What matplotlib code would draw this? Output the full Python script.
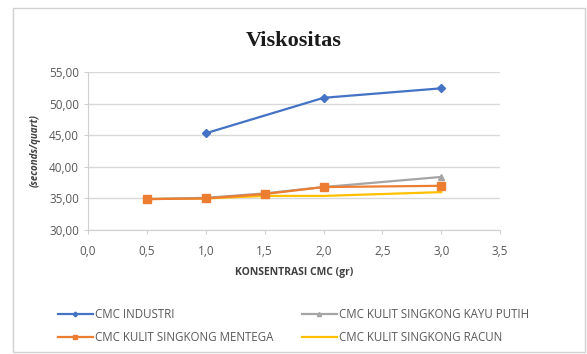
import matplotlib.pyplot as plt
from matplotlib.patches import Rectangle
from matplotlib.ticker import FuncFormatter, MultipleLocator

# konsentrasi CMC (gr) dan viskositas (seconds/quart)
x_industri = [1.0, 2.0, 3.0]
y_industri = [45.3, 50.9, 52.4]

x_singkong = [0.5, 1.0, 1.5, 2.0, 3.0]
y_kayu_putih = [34.9, 35.1, 35.8, 36.8, 38.4]
y_mentega = [34.9, 35.0, 35.7, 36.8, 37.0]
y_racun = [34.9, 35.0, 35.4, 35.4, 36.0]

labels = ['CMC INDUSTRI', 'CMC KULIT SINGKONG KAYU PUTIH',
          'CMC KULIT SINGKONG MENTEGA', 'CMC KULIT SINGKONG RACUN']

plt.rcParams['font.family'] = ['Open Sans', 'DejaVu Sans']

fig = plt.figure(figsize=(5.87, 3.54), dpi=100)
ax = fig.add_axes([0.150, 0.350, 0.702, 0.447])

# bingkai chart
fig.patches.append(Rectangle((0.022, 0.005), 0.975, 0.972, transform=fig.transFigure,
                             fill=False, edgecolor='#d0d0d0', linewidth=1.0))

l_ind, = ax.plot(x_industri, y_industri, color='#4472C4', marker='D', markersize=4,
                 linewidth=1.6, label=labels[0], zorder=4)
l_kp, = ax.plot(x_singkong, y_kayu_putih, color='#A5A5A5', marker='^', markersize=5,
                linewidth=1.6, label=labels[1], zorder=3)
l_men, = ax.plot(x_singkong, y_mentega, color='#ED7D31', marker='s', markersize=6,
                 linewidth=1.6, label=labels[2], zorder=4)
l_rac, = ax.plot(x_singkong, y_racun, color='#FFC000', marker=None,
                 linewidth=1.6, label=labels[3], zorder=2)

ax.set_xlim(0, 3.5)
ax.set_ylim(30, 55)
ax.xaxis.set_major_locator(MultipleLocator(0.5))
ax.yaxis.set_major_locator(MultipleLocator(5))
ax.xaxis.set_major_formatter(FuncFormatter(lambda v, p: f'{v:.1f}'.replace('.', ',')))
ax.yaxis.set_major_formatter(FuncFormatter(lambda v, p: f'{v:.2f}'.replace('.', ',')))

ax.grid(axis='y', color='#d9d9d9', linewidth=1.0)
ax.set_axisbelow(True)
for side in ['top', 'right']:
    ax.spines[side].set_visible(False)
for side in ['left', 'bottom']:
    ax.spines[side].set_color('#d0d0d0')
ax.tick_params(colors='#d0d0d0', labelcolor='#595959', labelsize=8.5, length=3)
ax.tick_params(axis='x', pad=8)

ax.set_xlabel('KONSENTRASI CMC (gr)', fontsize=7.5, fontweight='bold', color='#404040', labelpad=6)
ax.set_ylabel('(seconds/quart)', fontsize=7, fontweight='bold', fontstyle='italic',
              color='#404040', labelpad=6)

fig.text(0.5, 0.885, 'Viskositas', ha='center', va='center', fontsize=16,
         fontweight='bold', family='Liberation Serif', color='#1a1a1a')

# urutan legend per baris: kolom diisi dari atas ke bawah
handles = [l_ind, l_men, l_kp, l_rac]
fig.legend(handles, [h.get_label() for h in handles], loc='lower center',
           bbox_to_anchor=(0.5, 0.0), ncol=2, frameon=False,
           fontsize=8.3, labelcolor='#595959', handlelength=3, columnspacing=2.5,
           handletextpad=0.2, labelspacing=0.8, markerscale=0.6)

fig.savefig('out.png', dpi=100)
